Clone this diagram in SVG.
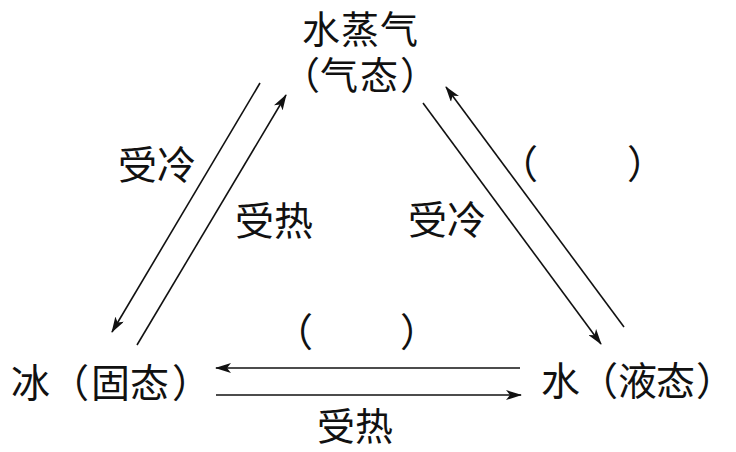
<svg xmlns="http://www.w3.org/2000/svg" width="736" height="452" viewBox="0 0 736 452">
<style>
text{font-family:"Noto Sans CJK SC","Noto Sans",sans-serif;font-size:39px;fill:#111;text-spacing-trim:space-all}
.c line{stroke:#111;stroke-width:1.6;fill:none}
</style>
<defs>
<marker id="ah" viewBox="0 0 16 10" markerWidth="16" markerHeight="10" refX="15" refY="5" orient="auto" markerUnits="userSpaceOnUse">
<path d="M0,0 L16,5 L0,10 L4,5 z" fill="#111"/>
</marker>
</defs>
<rect width="736" height="452" fill="#fff"/>
<g id="vapor">
<text y="43" style="font-size:38px"><tspan x="302">水</tspan><tspan x="341">蒸</tspan><tspan x="380">气</tspan></text>
<text y="89" style="font-size:38px"><tspan x="282">（</tspan><tspan x="320">气</tspan><tspan x="360">态</tspan><tspan x="400">）</tspan></text>
</g>
<g id="ice">
<text y="397"><tspan x="11">冰</tspan><tspan x="50">（</tspan><tspan x="91">固</tspan><tspan x="130">态</tspan><tspan x="172">）</tspan></text>
</g>
<g id="water">
<text y="395"><tspan x="541">水</tspan><tspan x="579">（</tspan><tspan x="618">液</tspan><tspan x="656">态</tspan><tspan x="696">）</tspan></text>
</g>
<g class="c" id="connectors">
<line x1="260" y1="83" x2="112" y2="332" marker-end="url(#ah)"/>
<line x1="137" y1="345" x2="286" y2="95" marker-end="url(#ah)"/>
<line x1="423" y1="103" x2="601" y2="344" marker-end="url(#ah)"/>
<line x1="624" y1="327" x2="446" y2="87" marker-end="url(#ah)"/>
<line x1="520" y1="368" x2="216" y2="368" marker-end="url(#ah)"/>
<line x1="216" y1="395" x2="521" y2="395" marker-end="url(#ah)"/>
</g>
<g id="labels">
<text x="118" y="179">受冷</text>
<text x="235" y="235">受热</text>
<text x="408" y="234">受冷</text>
<text y="178"><tspan x="499">（</tspan><tspan x="627">）</tspan></text>
<text y="346"><tspan x="274">（</tspan><tspan x="400">）</tspan></text>
<text x="317" y="440" style="font-size:38px">受热</text>
</g>
</svg>
